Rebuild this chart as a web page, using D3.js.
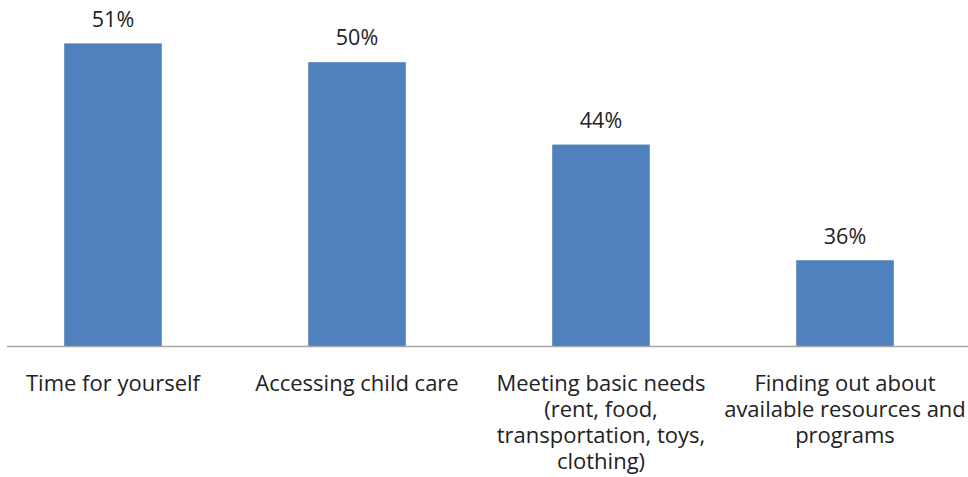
<!DOCTYPE html>
<html><head><meta charset="utf-8">
<script src="https://cdn.jsdelivr.net/npm/d3@7"></script>
<style>
html,body{margin:0;padding:0;background:#fff;}
svg{display:block;}
text{font-family:"Open Sans", Lato, sans-serif;fill:#222;}
</style></head>
<body>
<svg id="chart" width="968" height="477"></svg>
<script>
const categories = [
  ["Time for yourself"],
  ["Accessing child care"],
  ["Meeting basic needs", "(rent, food,", "transportation, toys,", "clothing)"],
  ["Finding out about", "available resources and", "programs"]
];
const values = [51, 49.7, 44, 36];
const yDomain = [30, 54];

const svg = d3.select("#chart");
const baseY = 347;

const x = d3.scaleBand()
  .domain(d3.range(categories.length))
  .range([-9, 967])
  .paddingInner(0.6)
  .paddingOuter(0.3);

const y = d3.scaleLinear().domain(yDomain).range([baseY, 0]);

svg.selectAll("rect.bar")
  .data(values)
  .join("rect")
  .attr("class", "bar")
  .attr("x", (d, i) => x(i))
  .attr("width", x.bandwidth())
  .attr("y", d => y(d))
  .attr("height", d => baseY - y(d))
  .attr("fill", "#4f81bd");

// axis line
const xAxis = d3.axisBottom(x).tickSize(0).tickFormat("");
const ax = svg.append("g").attr("transform", `translate(0,${baseY - 0.5})`).call(xAxis);
ax.select(".domain").attr("d", `M7,0H968`).attr("stroke", "#a6a6a6").attr("stroke-width", 1.3);

// value labels
svg.selectAll("text.val")
  .data(values)
  .join("text")
  .attr("class", "val")
  .attr("x", (d, i) => x(i) + x.bandwidth() / 2)
  .attr("y", d => y(d) - 16.7)
  .attr("text-anchor", "middle")
  .style("font-size", "21.5px")
  .text(d => Math.round(d) + "%");

// category labels
const lineH = 26;
categories.forEach((lines, i) => {
  const t = svg.append("text")
    .attr("text-anchor", "middle")
    .attr("x", x(i) + x.bandwidth() / 2)
    .attr("y", 391)
    .style("font-size", "22px");
  lines.forEach((ln, j) => {
    t.append("tspan")
      .attr("x", x(i) + x.bandwidth() / 2)
      .attr("dy", j === 0 ? 0 : lineH)
      .text(ln);
  });
});
</script>
</body></html>
